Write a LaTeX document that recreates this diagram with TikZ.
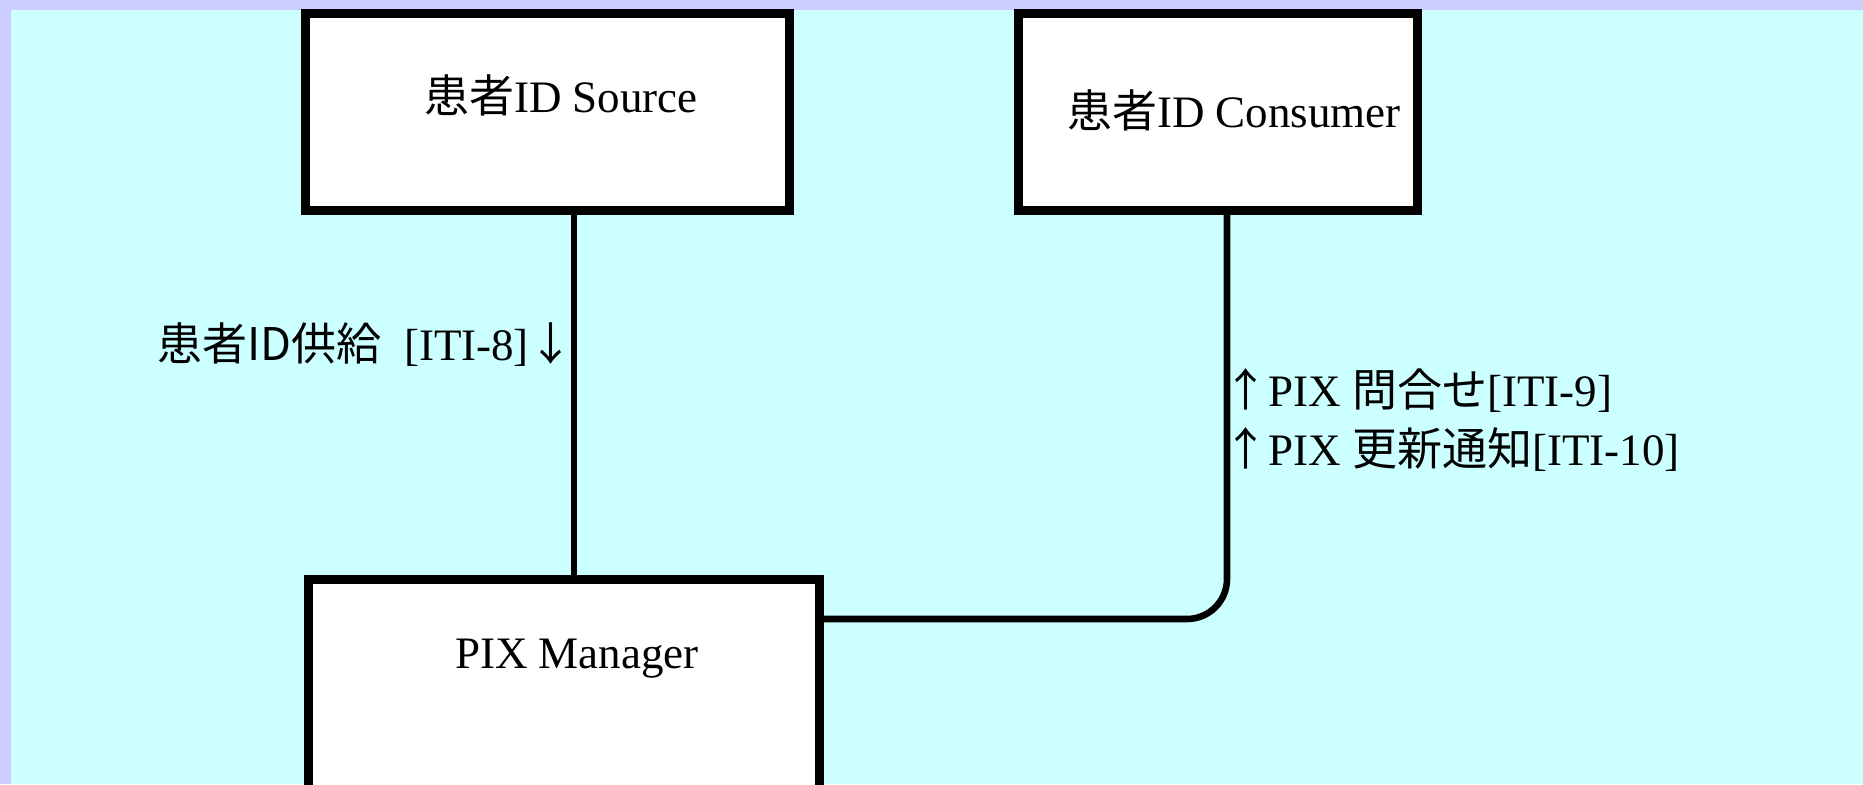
\documentclass[tikz,border=0pt]{standalone}
\usepackage{fontspec}
\setmainfont{Liberation Serif}
\newfontfamily\jp{Noto Sans CJK JP}
\definecolor{frame}{HTML}{CCCCFF}
\definecolor{field}{HTML}{CCFFFF}
\begin{document}
\begin{tikzpicture}[x=0.5pt,y=-0.5pt,
  actor/.style={draw=black,fill=white,line width=4.3pt,inner sep=0pt},
  conn/.style={draw=black,line width=3.3pt},
  txt/.style={font=\fontsize{22.5}{29.5}\selectfont,inner sep=0pt,align=left}]
\useasboundingbox (0,0) rectangle (1863,784);
\clip (0,0) rectangle (1863,784);
% page frame and field
\fill[frame] (0,0) rectangle (1863,784);
\fill[field] (11,10) rectangle (1863,784);

% routing points of the transactions
\coordinate (feed) at (574,0);
\coordinate (bend) at (1227,619);

% actors
\node[actor,minimum width=242.2pt,minimum height=98.7pt] (src)  at (547.5,112) {};
\node[actor,minimum width=199.7pt,minimum height=98.7pt] (cons) at (1218,112) {};
\node[actor,minimum width=255.7pt,minimum height=108.2pt] (pix) at (564,687.5) {};

% transactions
\draw[conn] (src.south -| feed) -- (pix.north -| feed);
\draw[conn,rounded corners=20pt] (bend -| pix.east) -- (bend) -- (bend |- cons.south);

\node[txt] (srcname)  at (561,95)  {{\jp 患者}ID Source};
\node[txt] (consname) at (1234,110) {{\jp 患者}ID Consumer};
\node[txt] (pixname)  at (577,659) {PIX Manager};

\node[txt,anchor=west] (feedlabel) at (157,345) {{\jp 患者ID供給}\ \ [ITI-8]{\jp ↓}};
\node[txt,anchor=west] (querylabel) at (1223,419.5)
  {{\jp ↑}PIX {\jp 問合せ}[ITI-9]\\{\jp ↑}PIX {\jp 更新通知}[ITI-10]};
\end{tikzpicture}
\end{document}
